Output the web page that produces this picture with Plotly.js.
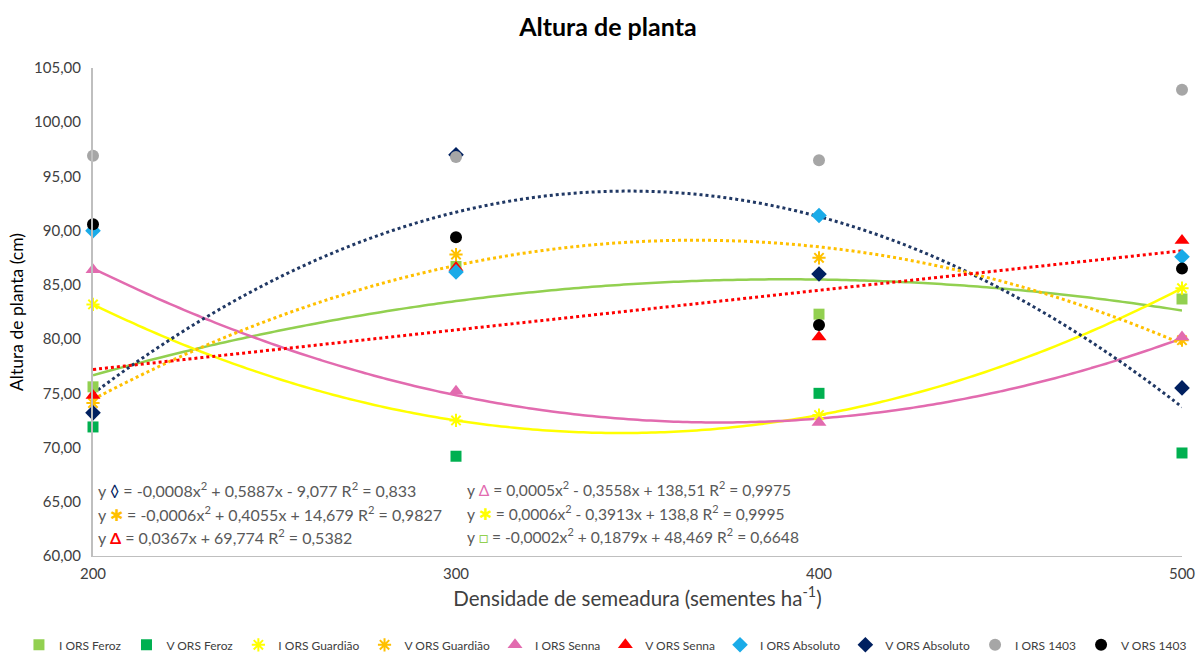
<!DOCTYPE html>
<html><head><meta charset="utf-8">
<script src="https://cdn.plot.ly/plotly-3.0.1.min.js"></script>
<style>html,body{margin:0;padding:0;background:#fff}#chart{width:1199px;height:658px}</style>
</head><body><div id="chart"></div>
<script>
// ---- data ----
const densidade = [200, 300, 400, 500];
const iFeroz     = [75.6, 86.7, 82.3, 83.7];
const vFeroz     = [71.9, 69.2, 75.0, 69.5];
const iGuardiao  = [83.2, 72.5, 73.0, 84.7];
const vGuardiao  = [74.1, 87.8, 87.5, 79.9];
const iSenna     = [86.4, 75.2, 72.3, 80.2];
const vSenna     = [74.8, 86.6, 80.2, 89.1];
const iAbsoluto  = [90.0, 86.2, 91.4, 87.6];
const vAbsoluto  = [73.2, 97.0, 86.0, 75.5];
const i1403      = [96.9, 96.8, 96.5, 103.0];
const v1403      = [90.6, 89.4, 81.3, 86.5];
const seriesNames = ['I ORS Feroz','V ORS Feroz','I ORS Guardião','V ORS Guardião','I ORS Senna','V ORS Senna','I ORS Absoluto','V ORS Absoluto','I ORS 1403','V ORS 1403'];
const equationsLeft = [
  'y <span style="color:#002060">◊</span> = -0,0008x<sup>2</sup> + 0,5887x - 9,077 R<sup>2</sup> = 0,833',
  'y <span style="color:#FFC000">✱</span> = -0,0006x<sup>2</sup> + 0,4055x + 14,679 R<sup>2</sup> = 0,9827',
  'y <span style="color:#FF0000"><b>Δ</b></span> = 0,0367x + 69,774 R<sup>2</sup> = 0,5382'
];
const equationsRight = [
  'y <span style="color:#E26BAF">Δ</span> = 0,0005x<sup>2</sup> - 0,3558x + 138,51 R<sup>2</sup> = 0,9975',
  'y <span style="color:#FFFF00">✱</span> = 0,0006x<sup>2</sup> - 0,3913x + 138,8 R<sup>2</sup> = 0,9995',
  'y <span style="color:#92D050">□</span> = -0,0002x<sup>2</sup> + 0,1879x + 48,469 R<sup>2</sup> = 0,6648'
];

// ---- least squares polynomial fit (Excel-style trendline) ----
function polyfit(xs, ys, deg) {
  const n = deg + 1;
  const A = Array.from({length:n}, () => new Array(n + 1).fill(0));
  for (let k = 0; k < xs.length; k++) {
    const x = xs[k], y = ys[k];
    for (let i = 0; i < n; i++) {
      for (let j = 0; j < n; j++) A[i][j] += Math.pow(x, i + j);
      A[i][n] += Math.pow(x, i) * y;
    }
  }
  for (let i = 0; i < n; i++) {
    let p = i;
    for (let r = i + 1; r < n; r++) if (Math.abs(A[r][i]) > Math.abs(A[p][i])) p = r;
    [A[i], A[p]] = [A[p], A[i]];
    for (let r = 0; r < n; r++) {
      if (r === i) continue;
      const f = A[r][i] / A[i][i];
      for (let c = i; c <= n; c++) A[r][c] -= f * A[i][c];
    }
  }
  return A.map((row, i) => row[n] / row[i]);
}
function trend(ys, deg, color, dash) {
  const c = polyfit(densidade, ys, deg);
  const xs = [], yv = [];
  const x0 = densidade[0], x1 = densidade[densidade.length - 1];
  for (let k = 0; k <= 120; k++) {
    const x = x0 + (x1 - x0) * k / 120;
    let y = 0;
    for (let i = 0; i < c.length; i++) y += c[i] * Math.pow(x, i);
    xs.push(x); yv.push(y);
  }
  return {x: xs, y: yv, mode: 'lines', showlegend: false, hoverinfo: 'skip',
          line: {color: color, width: dash === 'solid' ? 2.5 : 3, dash: dash, shape: 'spline'}};
}
function pts(name, ys, symbol, color, size) {
  const m = {symbol: symbol, color: color, size: size};
  if (symbol.indexOf('asterisk') === 0) m.line = {color: color, width: 2};
  return {x: densidade, y: ys, name: name, mode: 'markers', marker: m, cliponaxis: false};
}

const traces = [
  trend(iFeroz, 2, '#92D050', 'solid'),
  trend(iGuardiao, 2, '#FFFF00', 'solid'),
  trend(iSenna, 2, '#E26BAF', 'solid'),
  trend(vAbsoluto, 2, '#203864', 'dot'),
  trend(vGuardiao, 2, '#FFC000', 'dot'),
  trend(vSenna, 1, '#FF0000', 'dot'),
  pts(seriesNames[0], iFeroz, 'square', '#92D050', 11),
  pts(seriesNames[1], vFeroz, 'square', '#00B050', 11),
  pts(seriesNames[2], iGuardiao, 'asterisk-open', '#FFFF00', 11),
  pts(seriesNames[3], vGuardiao, 'asterisk-open', '#FFC000', 11),
  pts(seriesNames[4], iSenna, 'triangle-up', '#E26BAF', 13),
  pts(seriesNames[5], vSenna, 'triangle-up', '#FF0000', 13),
  pts(seriesNames[6], iAbsoluto, 'diamond', '#1AABE8', 12),
  pts(seriesNames[7], vAbsoluto, 'diamond', '#002060', 12),
  pts(seriesNames[8], i1403, 'circle', '#A6A6A6', 12),
  pts(seriesNames[9], v1403, 'circle', '#000000', 12)
];

const rowY = [0.137, 0.088, 0.039];
const annotations = [];
equationsLeft.forEach((t, i) => annotations.push({xref:'paper', yref:'paper', x: 0.003, y: rowY[i], xanchor:'left', yanchor:'middle', showarrow:false, text:t, font:{size:16, color:'#595959'}}));
equationsRight.forEach((t, i) => annotations.push({xref:'paper', yref:'paper', x: 0.342, y: rowY[i] + (i===2 ? 0.004 : 0.002), xanchor:'left', yanchor:'middle', showarrow:false, text:t, font:{size:15.6, color:'#595959'}}));

const layout = {
  width: 1199, height: 658,
  paper_bgcolor: '#fff', plot_bgcolor: '#fff',
  separators: ',.',
  font: {family: 'Lato, "Open Sans", sans-serif', color: '#404040'},
  margin: {l: 93, r: 17, t: 68, b: 102, autoexpand: false},
  title: {text: '<b>Altura de planta</b>', x: 0.507, xanchor: 'center', y: 0.958, yanchor: 'middle', font: {size: 25, color: '#000'}},
  xaxis: {range: [200, 500], tickvals: densidade, showgrid: false, zeroline: false,
          showline: true, linecolor: '#BFBFBF', linewidth: 1, ticks: '',
          tickfont: {size: 15, color: '#404040'}, ticklabelstandoff: 4,
          title: {text: 'Densidade de semeadura (sementes ha<sup>-1</sup>)', standoff: 10, font: {size: 20.5, color: '#404040'}}},
  yaxis: {range: [60, 105], dtick: 5, tickformat: '.2f', showgrid: false, zeroline: false,
          showline: true, linecolor: '#BFBFBF', linewidth: 2, ticks: '',
          tickfont: {size: 15, color: '#404040'}, ticklabelstandoff: 7,
          title: {text: 'Altura de planta (cm)', standoff: 6, font: {size: 17.5, color: '#000'}}},
  legend: {orientation: 'h', xref: 'paper', yref: 'paper', x: -0.068, xanchor: 'left', y: -0.182, yanchor: 'middle',
           font: {size: 12, color: '#404040'}, itemwidth: 30, tracegroupgap: 0},
  annotations: annotations
};
Plotly.newPlot('chart', traces, layout, {displayModeBar: false, staticPlot: true});
</script>
</body></html>
